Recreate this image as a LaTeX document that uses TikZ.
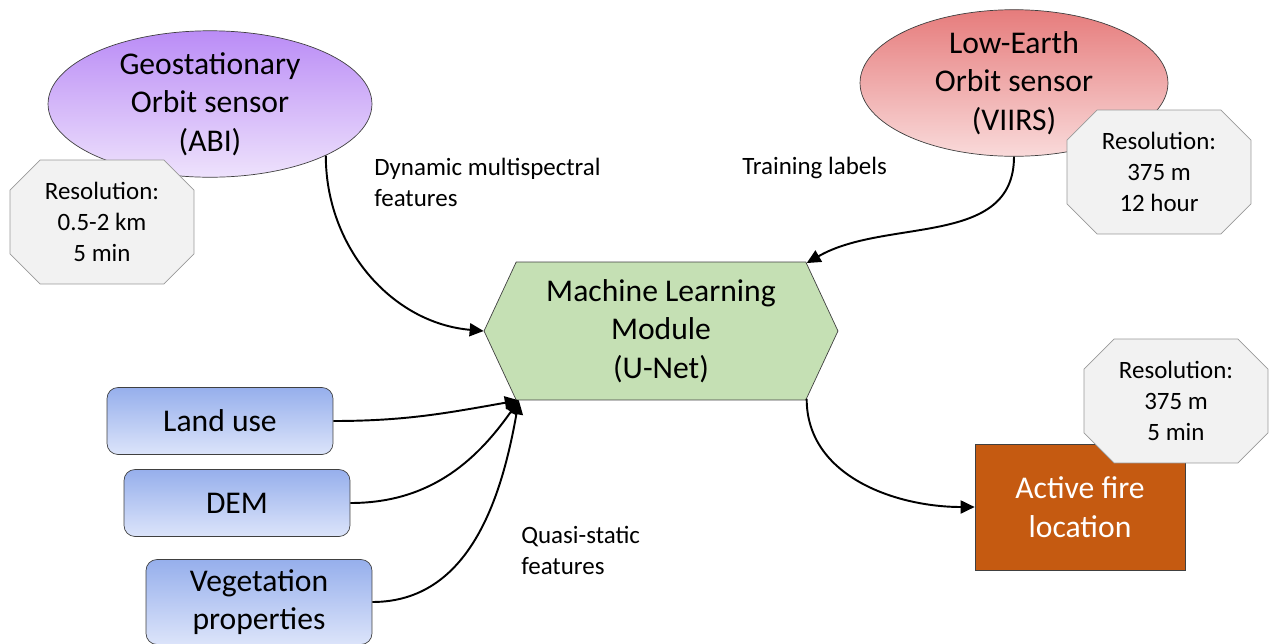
\documentclass[tikz,border=0pt]{standalone}
\usepackage{fontspec}
\setmainfont{Carlito}
\usetikzlibrary{shapes.geometric,shapes.misc,shapes.symbols,arrows.meta}

\definecolor{geotop}{RGB}{186,140,246}
\definecolor{geobot}{RGB}{238,226,252}
\definecolor{leotop}{RGB}{230,124,124}
\definecolor{leobot}{RGB}{249,218,218}
\definecolor{inptop}{RGB}{150,175,236}
\definecolor{inpbot}{RGB}{220,228,250}
\definecolor{mlgreen}{RGB}{197,224,180}
\definecolor{fireorange}{RGB}{197,90,17}
\definecolor{resgray}{RGB}{242,242,242}
\newcommand{\bigtxt}{\fontsize{18}{22}\selectfont}
\newcommand{\smalltxt}{\fontsize{14.2}{17.6}\selectfont}

\begin{document}
\begin{tikzpicture}[x=0.02cm,y=0.02cm,
		sensor/.style={ellipse,draw=black!75,inner sep=0pt,align=center,font=\bigtxt},
		res/.style={chamfered rectangle,chamfered rectangle xsep=0.3cm,chamfered rectangle ysep=0.3cm,
			draw=black!40,fill=resgray,inner sep=0pt,minimum width=3.68cm,minimum height=2.48cm,align=center,font=\smalltxt},
		inp/.style={rectangle,rounded corners=0.22cm,draw=black!75,top color=inptop,bottom color=inpbot,
			minimum width=4.52cm,minimum height=1.34cm,inner sep=0pt,align=center,font=\bigtxt},
		lbl/.style={anchor=west,align=left,inner sep=0pt,font=\smalltxt},
		arr/.style={-{Triangle[length=2.8mm,width=2.6mm]},line width=1.1pt}]
	\useasboundingbox (0,0) rectangle (1269,-643);

	\node[sensor,top color=geotop,bottom color=geobot,minimum width=6.48cm,minimum height=2.84cm] (geo) at (210,-104) {Geostationary\\Orbit sensor\\(ABI)};
	\node[res] (geores) at (102,-222) {Resolution:\\0.5-2 km\\5 min};

	\node[sensor,top color=leotop,bottom color=leobot,minimum width=6.16cm,minimum height=2.82cm] (leo) at (1014,-83) {Low-Earth\\Orbit sensor\\(VIIRS)};
	\node[res] (leores) at (1159,-172) {Resolution:\\375 m\\12 hour};

	\node[signal,signal to=west and east,signal pointer angle=130,draw=black!75,fill=mlgreen,
		minimum width=7.08cm,minimum height=2.76cm,inner sep=0pt,align=center,font=\bigtxt] (ml) at (661,-331) {Machine Learning\\Module\\(U-Net)};

	\node[inp] (land) at (220,-421) {Land use};
	\node[inp] (dem) at (237,-503) {DEM};
	\node[inp,minimum height=1.7cm] (veg) at (259,-602) {Vegetation\\properties};

	\node[rectangle,draw=black!75,fill=fireorange,text=white,minimum width=4.2cm,minimum height=2.52cm,
		align=center,font=\bigtxt] (fire) at (1080,-507) {Active fire\\location};
	\node[res] (fireres) at (1176,-401) {Resolution:\\375 m\\5 min};

	\node[lbl] (dyn) at (374,-182) {Dynamic multispectral\\features};
	\node[lbl] (train) at (742,-168) {Training labels};
	\node[lbl] (quasi) at (521,-550) {Quasi-static\\features};

	\draw[arr] (geo.-24) to[out=-90,in=175] (ml.west);
	\draw[arr] (leo.south) to[out=-90,in=30] (ml.25);
	\draw[arr] (land.east) to[out=0,in=190] (ml.-154);
	\draw[arr] (dem.east) to[out=0,in=235] (ml.-154);
	\draw[arr] (veg.east) to[out=0,in=260] (ml.-154);
	\draw[arr] (ml.-25) to[out=-90,in=180] (fire.west);

\end{tikzpicture}
\end{document}
